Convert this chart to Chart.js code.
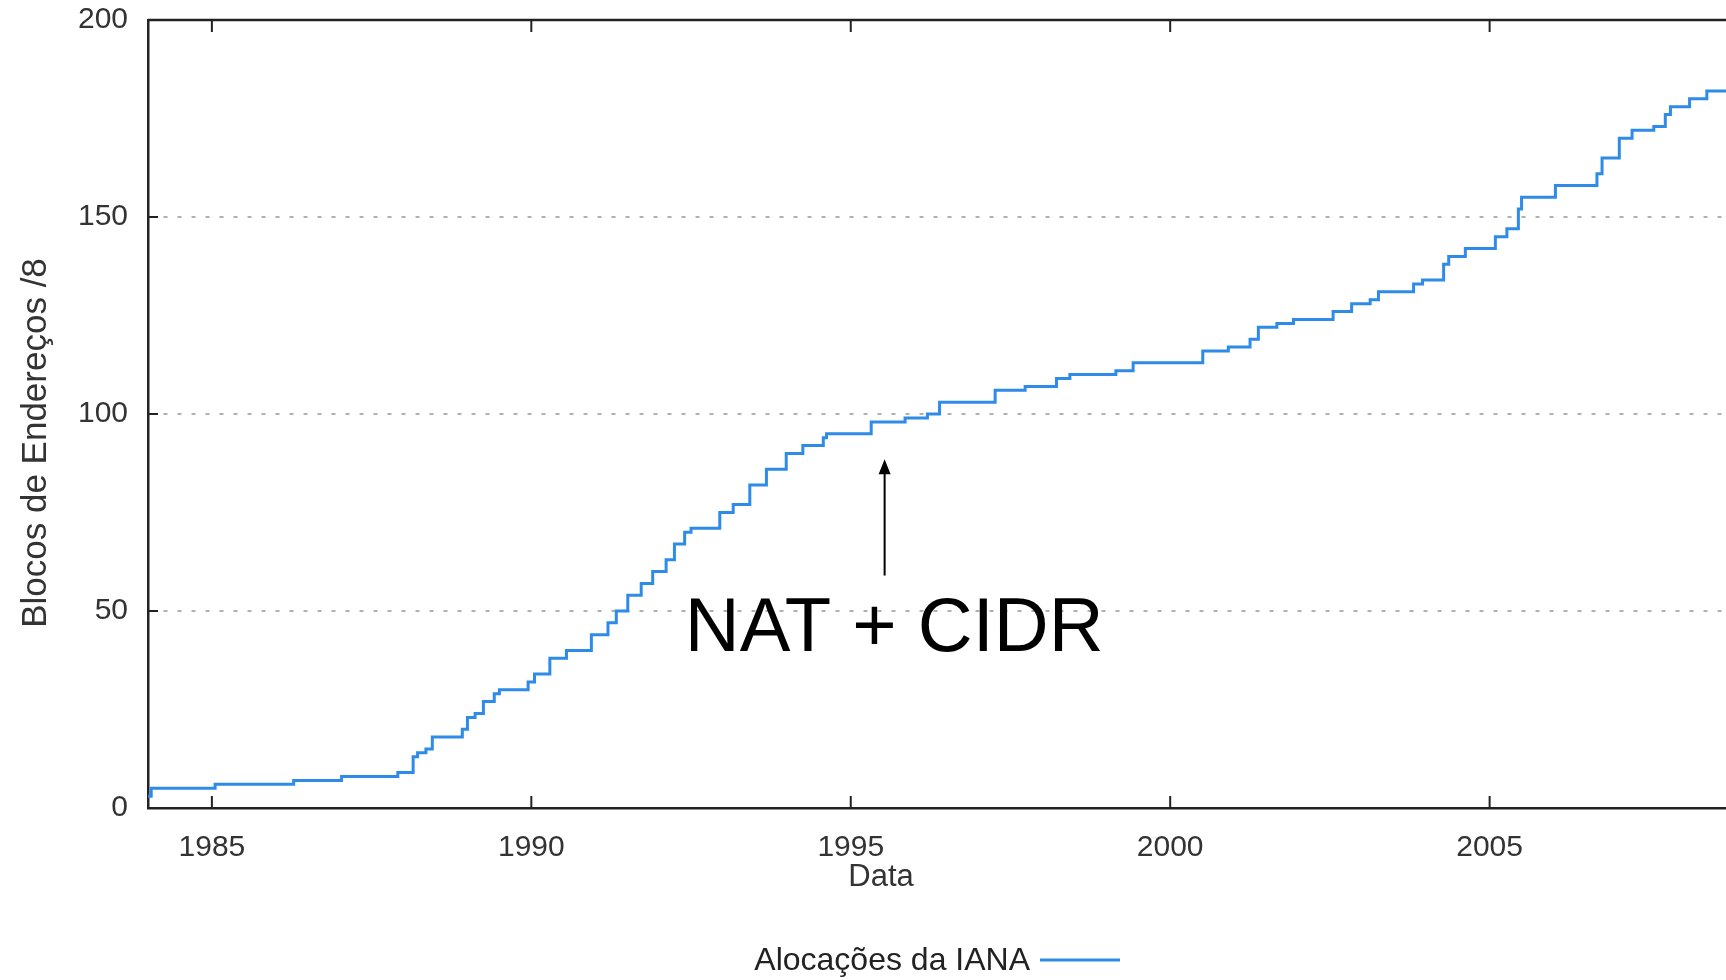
<!DOCTYPE html>
<html>
<head>
<meta charset="utf-8">
<script src="https://cdn.jsdelivr.net/npm/chart.js@4.4.1/dist/chart.umd.min.js"></script>
<style>
  html, body { margin: 0; padding: 0; background: #fff; }
  #wrap { width: 1726px; height: 980px; position: relative; }
</style>
</head>
<body>
<div id="wrap"><canvas id="canvasLine"></canvas></div>
<script>
// Alocações de blocos /8 pela IANA (acumulado)
var anos = [1984.0, 1984.05, 1985.05, 1986.28, 1987.03, 1987.91, 1988.15, 1988.22, 1988.35, 1988.45,
            1988.92, 1989.0, 1989.12, 1989.25, 1989.42, 1989.5, 1989.95, 1990.05, 1990.29, 1990.55,
            1990.94, 1991.2, 1991.33, 1991.51, 1991.72, 1991.9, 1992.11, 1992.24, 1992.4, 1992.5,
            1992.95, 1993.16, 1993.42, 1993.68, 1993.99, 1994.25, 1994.57, 1994.62, 1995.32, 1995.85,
            1996.2, 1996.39, 1997.26, 1997.73, 1998.22, 1998.43, 1999.15, 1999.42, 2000.51, 2000.91,
            2001.25, 2001.38, 2001.67, 2001.93, 2002.55, 2002.84, 2003.13, 2003.26, 2003.81, 2003.95,
            2004.28, 2004.36, 2004.62, 2005.09, 2005.27, 2005.45, 2005.5, 2006.03, 2006.68, 2006.76,
            2007.03, 2007.23, 2007.57, 2007.75, 2007.83, 2008.13, 2008.4, 2008.7];
var blocos = [3, 5, 6, 7, 8, 9, 13, 14, 15, 18,
              20, 23, 24, 27, 29, 30, 32, 34, 38, 40,
              44, 47, 50, 54, 57, 60, 63, 67, 70, 71,
              75, 77, 82, 86, 90, 92, 94, 95, 98, 99,
              100, 103, 106, 107, 109, 110, 111, 113, 116, 117,
              119, 122, 123, 124, 126, 128, 129, 131, 133, 134,
              138, 140, 142, 145, 147, 152, 155, 158, 161, 165,
              170, 172, 173, 176, 178, 180, 182, 182];
var xTicks = [1985, 1990, 1995, 2000, 2005];
var yTicks = [0, 50, 100, 150, 200];

var fonte = '"Liberation Sans", Arial, sans-serif';
var azul = '#2f8be8';

function linha(ctx, x1, y1, x2, y2) {
  ctx.beginPath(); ctx.moveTo(x1, y1); ctx.lineTo(x2, y2); ctx.stroke();
}

// moldura, marcas internas, anotação e legenda
var extras = {
  id: 'extras',
  afterDraw: function(chart) {
    var ctx = chart.ctx, a = chart.chartArea, x = chart.scales.x, y = chart.scales.y;
    ctx.save();
    ctx.strokeStyle = '#222';
    ctx.lineWidth = 2.5;
    linha(ctx, a.left, a.top, a.right, a.top);
    ctx.lineWidth = 2;
    xTicks.forEach(function(v) {
      var px = x.getPixelForValue(v);
      linha(ctx, px, a.bottom, px, a.bottom - 12);
      linha(ctx, px, a.top, px, a.top + 12);
    });
    yTicks.slice(1, -1).forEach(function(v) {
      var py = y.getPixelForValue(v);
      linha(ctx, a.left, py, a.left + 10, py);
    });

    // seta NAT + CIDR
    var ax = x.getPixelForValue(1995.53);
    var ay1 = y.getPixelForValue(59), ay2 = y.getPixelForValue(88.5);
    ctx.strokeStyle = '#000';
    ctx.fillStyle = '#000';
    ctx.lineWidth = 2;
    linha(ctx, ax, ay1, ax, ay2 + 8);
    ctx.beginPath();
    ctx.moveTo(ax, ay2);
    ctx.lineTo(ax - 6, ay2 + 15);
    ctx.lineTo(ax + 6, ay2 + 15);
    ctx.closePath();
    ctx.fill();
    ctx.font = '76px ' + fonte;
    ctx.textAlign = 'center';
    ctx.textBaseline = 'middle';
    ctx.fillText('NAT + CIDR', x.getPixelForValue(1995.68), y.getPixelForValue(45.2));

    // títulos dos eixos
    ctx.fillStyle = '#333';
    ctx.font = '31px ' + fonte;
    ctx.fillText('Data', 881, 877);
    ctx.save();
    ctx.translate(36, 443);
    ctx.rotate(-Math.PI / 2);
    ctx.font = '35px ' + fonte;
    ctx.fillText('Blocos de Endereços /8', 0, 0);
    ctx.restore();

    // legenda
    ctx.font = '32px ' + fonte;
    ctx.textAlign = 'right';
    ctx.fillStyle = '#222';
    ctx.fillText(chart.data.datasets[0].label, 1030, 961);
    ctx.strokeStyle = azul;
    ctx.lineWidth = 3;
    linha(ctx, 1040, 960, 1120, 960);
    ctx.restore();
  }
};

var ctx = document.getElementById('canvasLine').getContext('2d');
var lineChart = new Chart(ctx, {
  type: 'line',
  data: {
    datasets: [{
      label: 'Alocações da IANA',
      data: anos.map(function(a, i) { return {x: a, y: blocos[i]}; }),
      borderColor: azul,
      borderWidth: 3,
      pointRadius: 0,
      stepped: true,
      fill: false
    }]
  },
  options: {
    responsive: true,
    maintainAspectRatio: false,
    animation: false,
    layout: { padding: { top: 20, right: 0, left: 0, bottom: 0 } },
    plugins: {
      legend: { display: false },
      tooltip: { enabled: false }
    },
    scales: {
      x: {
        type: 'linear',
        min: 1984,
        max: 2008.7,
        afterBuildTicks: function(s) { s.ticks = xTicks.map(function(v) { return {value: v}; }); },
        afterFit: function(s) { s.height = 172; s.paddingLeft = 0; s.paddingRight = 0; },
        grid: { display: false, drawTicks: false },
        border: { display: true, color: '#222', width: 2.5 },
        ticks: {
          font: { family: fonte, size: 30 },
          color: '#333',
          padding: 22,
          maxRotation: 0,
          callback: function(v) { return String(v); }
        }
      },
      y: {
        min: 0,
        max: 200,
        afterBuildTicks: function(s) { s.ticks = yTicks.map(function(v) { return {value: v}; }); },
        afterFit: function(s) { s.width = 148; s.paddingTop = 0; s.paddingBottom = 0; },
        grid: {
          drawTicks: false,
          lineWidth: 2,
          color: function(c) { return (c.tick && (c.tick.value === 0 || c.tick.value === 200)) ? 'rgba(0,0,0,0)' : '#b0b0b0'; }
        },
        border: { display: true, color: '#222', width: 2.5, dash: [4, 10] },
        ticks: {
          font: { family: fonte, size: 30 },
          color: '#333',
          padding: 20
        }
      }
    }
  },
  plugins: [extras]
});
</script>
</body>
</html>
